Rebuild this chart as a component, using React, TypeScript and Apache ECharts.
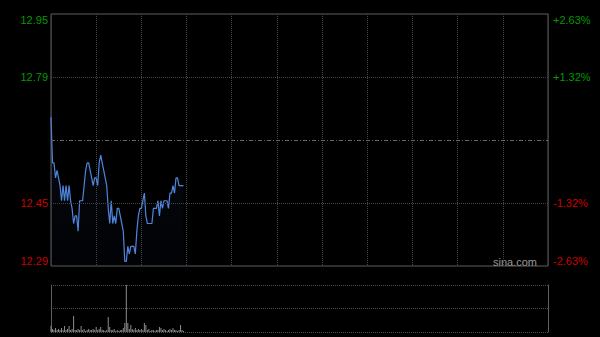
import React, { useEffect, useRef } from "react";
import * as echarts from "echarts";

// ---- data ----
const prevClose = 12.62;
const rangePct = 2.63;
const stepPct = 1.315;
const sessionMinutes = 330;
const halfHour = 30;

const priceData = [
  12.68, 12.56, 12.56, 12.52, 12.54, 12.52, 12.5, 12.46, 12.5, 12.46,
  12.5, 12.46, 12.5, 12.46, 12.44, 12.4, 12.42, 12.42, 12.38, 12.46,
  12.46, 12.46, 12.5, 12.54, 12.56, 12.56, 12.54, 12.52, 12.5, 12.52,
  12.52, 12.5, 12.56, 12.58, 12.56, 12.54, 12.52, 12.5, 12.44, 12.4,
  12.46, 12.4, 12.42, 12.4, 12.44, 12.44, 12.42, 12.4, 12.38, 12.3,
  12.3, 12.34, 12.32, 12.34, 12.34, 12.34, 12.32, 12.38, 12.42, 12.44,
  12.44, 12.46, 12.48, 12.42, 12.4, 12.4, 12.4, 12.4, 12.44, 12.44,
  12.44, 12.46, 12.42, 12.46, 12.44, 12.46, 12.46, 12.46, 12.44, 12.48,
  12.48, 12.5, 12.48, 12.52, 12.52, 12.5, 12.5, 12.5, 12.5,
];

const volumeData = [
  63, 30, 20, 40, 20, 30, 20, 40, 20, 60,
  20, 30, 60, 20, 30, 160, 20, 20, 30, 20,
  60, 20, 30, 10, 20, 30, 20, 20, 30, 20,
  50, 20, 30, 50, 20, 20, 10, 20, 150, 50,
  20, 20, 30, 10, 20, 10, 20, 20, 40, 90,
  470, 90, 30, 70, 30, 20, 40, 20, 30, 20,
  30, 20, 90, 70, 20, 30, 10, 20, 20, 10,
  20, 20, 50, 40, 20, 30, 20, 10, 20, 30,
  20, 40, 20, 20, 10, 20, 70, 20, 10,
];

const leftTickLabels = ["12.29", "12.45", "", "12.79", "12.95"];
const rightTickLabels = ["-2.63%", "-1.32%", "", "+1.32%", "+2.63%"];
const tickColors = ["#cc0000", "#cc0000", "#888888", "#009900", "#009900"];

const watermark = "sina.com";

export default function App() {
  const ref = useRef<HTMLDivElement>(null);

  useEffect(() => {
    if (!ref.current) return;
    const chart = echarts.init(ref.current, null, { renderer: "svg" });

    const pctSeries = priceData.map((p, i) => [i, ((p - prevClose) / prevClose) * 100]);
    const volSeries = volumeData.map((v, i) => [i, v]);
    const maxVol = Math.max(...volumeData);

    const rich: Record<string, any> = {};
    tickColors.forEach((c, k) => {
      rich["c" + k] = { color: c, fontSize: 11, fontFamily: "Liberation Sans, Arial, sans-serif" };
    });
    const tickIndex = (v: number) => Math.round(v / stepPct) + 2;
    const leftFmt = (v: number) => {
      const k = tickIndex(v);
      return leftTickLabels[k] ? `{c${k}|${leftTickLabels[k]}}` : "";
    };
    const rightFmt = (v: number) => {
      const k = tickIndex(v);
      return rightTickLabels[k] ? `{c${k}|${rightTickLabels[k]}}` : "";
    };

    const gridLine = "#454545";
    const borderColor = "#5e5e5e";

    chart.setOption({
      animation: false,
      backgroundColor: "#000000",
      grid: [
        {
          left: 51, top: 14, width: 497, height: 252,
          show: true, borderColor: borderColor, borderWidth: 1,
          backgroundColor: "transparent",
        },
        { left: 51, top: 285, width: 497, height: 47 },
      ],
      xAxis: [
        {
          type: "value", gridIndex: 0, min: 0, max: sessionMinutes, interval: halfHour,
          axisLine: { show: false }, axisTick: { show: false }, axisLabel: { show: false },
          splitLine: { show: true, lineStyle: { color: gridLine, type: "dotted", width: 1 } },
        },
        {
          type: "value", gridIndex: 1, min: 0, max: sessionMinutes, interval: halfHour,
          axisLine: { show: false }, axisTick: { show: false }, axisLabel: { show: false },
          splitLine: { show: false },
        },
      ],
      yAxis: [
        {
          type: "value", gridIndex: 0, position: "left",
          min: -rangePct, max: rangePct, interval: stepPct,
          axisLine: { show: false }, axisTick: { show: false },
          splitLine: { show: false },
          axisLabel: {
            margin: 3, formatter: leftFmt, rich,
            verticalAlignMinLabel: "bottom", verticalAlignMaxLabel: "top",
          },
        },
        {
          type: "value", gridIndex: 0, position: "right",
          min: -rangePct, max: rangePct, interval: stepPct,
          axisLine: { show: false }, axisTick: { show: false },
          splitLine: { show: false },
          axisLabel: {
            margin: 5, formatter: rightFmt, rich,
            verticalAlignMinLabel: "bottom", verticalAlignMaxLabel: "top",
          },
        },
        {
          type: "value", gridIndex: 1, position: "left",
          min: 0, max: maxVol, interval: maxVol / 2,
          axisLine: { show: true, lineStyle: { color: borderColor } },
          axisTick: { show: false }, axisLabel: { show: false },
          splitLine: { show: true, lineStyle: { color: "#4e4e4e", type: "dotted" } },
        },
        {
          type: "value", gridIndex: 1, position: "right",
          min: 0, max: maxVol, interval: maxVol / 2,
          axisLine: { show: true, lineStyle: { color: borderColor } },
          axisTick: { show: false }, axisLabel: { show: false },
          splitLine: { show: false },
        },
      ],
      graphic: [
        {
          type: "text", right: 63, top: 256,
          style: { text: watermark, fill: "#9a9a9a", fontSize: 11, fontFamily: "Liberation Sans, Arial, sans-serif" },
          silent: true,
        },
      ],
      series: [
        {
          type: "line", xAxisIndex: 0, yAxisIndex: 0, data: pctSeries,
          showSymbol: false, symbol: "none",
          lineStyle: { color: "#4f86dc", width: 1.2 },
          areaStyle: {
            origin: "start",
            color: new echarts.graphic.LinearGradient(0, 0, 0, 1, [
              { offset: 0, color: "rgba(40,70,130,0.22)" },
              { offset: 1, color: "rgba(20,35,70,0.10)" },
            ]),
          },
          markLine: {
            silent: true, symbol: "none", label: { show: false },
            data: [
              { yAxis: stepPct, lineStyle: { color: gridLine, type: "dotted", width: 1 } },
              { yAxis: -stepPct, lineStyle: { color: gridLine, type: "dotted", width: 1 } },
              { yAxis: 0, lineStyle: { color: "#686868", type: [4, 2, 1, 2], width: 1 } },
            ],
          },
        },
        {
          type: "bar", xAxisIndex: 1, yAxisIndex: 2, data: volSeries,
          barWidth: 1, itemStyle: { color: "#8c8c8c" },
        },
      ],
    });

    return () => chart.dispose();
  }, []);

  return (
    <div
      ref={ref}
      style={{ position: "fixed", left: 0, top: 0, width: 600, height: 337, background: "#000" }}
    />
  );
}
